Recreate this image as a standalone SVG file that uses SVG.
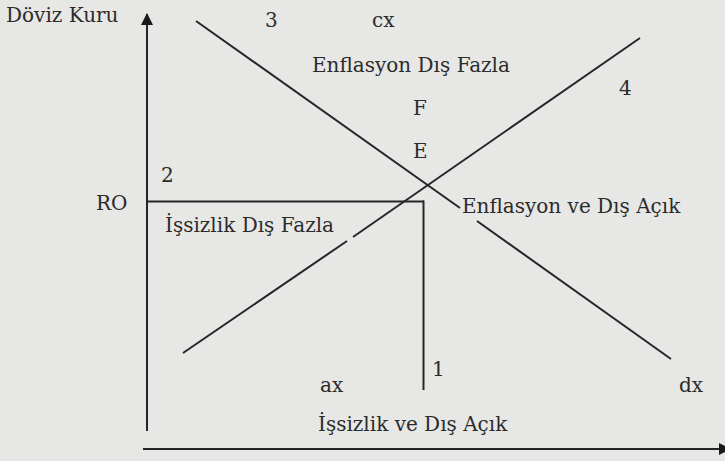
<svg xmlns="http://www.w3.org/2000/svg" width="725" height="461" viewBox="0 0 725 461">
  <defs>
    <style>
      .ln { stroke: #262626; stroke-width: 2; fill: none; stroke-linecap: butt; }
      .t { font-family: "DejaVu Serif", "Liberation Serif", serif; font-size: 20px; fill: #2b2b2b; }
    </style>
    <marker id="arr" viewBox="0 0 12 12" refX="11" refY="6" markerWidth="12" markerHeight="12" markerUnits="userSpaceOnUse" orient="auto">
      <path d="M0,0 L12,6 L0,12 Z" fill="#1a1a1a"/>
    </marker>
  </defs>
  <rect x="0" y="0" width="725" height="461" fill="#e7e7e5"/>

  <g id="axes">
    <line class="ln" x1="147" y1="431" x2="147" y2="14" marker-end="url(#arr)"/>
    <line class="ln" x1="143" y1="449" x2="730" y2="449" marker-end="url(#arr)"/>
  </g>

  <g id="connectors">
    <line class="ln" x1="196" y1="21" x2="460" y2="208"/>
    <line class="ln" x1="477" y1="221" x2="671" y2="359"/>
    <line class="ln" x1="183" y1="353" x2="347" y2="241"/>
    <line class="ln" x1="353" y1="237" x2="640" y2="38"/>
    <line class="ln" x1="147" y1="201.5" x2="424" y2="201.5"/>
    <line class="ln" x1="423.5" y1="200.5" x2="423.5" y2="390"/>
  </g>

  <g id="label-doviz"><text class="t" x="6" y="22">Döviz Kuru</text></g>
  <g id="label-3"><text class="t" x="265" y="27">3</text></g>
  <g id="label-cx"><text class="t" x="372" y="27">cx</text></g>
  <g id="label-enf-fazla"><text class="t" x="312" y="72">Enflasyon Dış Fazla</text></g>
  <g id="label-4"><text class="t" x="619" y="95">4</text></g>
  <g id="label-F"><text class="t" x="413" y="115">F</text></g>
  <g id="label-E"><text class="t" x="413" y="158">E</text></g>
  <g id="label-2"><text class="t" x="161" y="182">2</text></g>
  <g id="label-RO"><text class="t" x="96" y="210">RO</text></g>
  <g id="label-issiz-fazla"><text class="t" x="165" y="232">İşsizlik Dış Fazla</text></g>
  <g id="label-enf-acik"><text class="t" x="462" y="213">Enflasyon ve Dış Açık</text></g>
  <g id="label-ax"><text class="t" x="320" y="392">ax</text></g>
  <g id="label-1"><text class="t" x="432" y="376">1</text></g>
  <g id="label-dx"><text class="t" x="679" y="392">dx</text></g>
  <g id="label-issiz-acik"><text class="t" x="318" y="431">İşsizlik ve Dış Açık</text></g>
</svg>
